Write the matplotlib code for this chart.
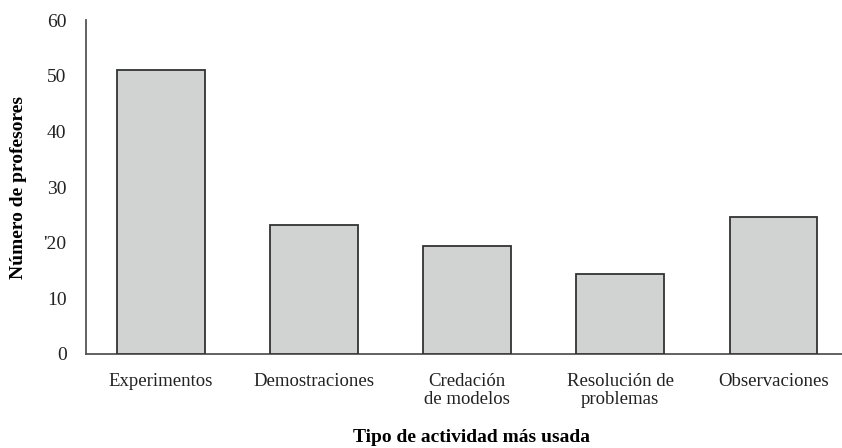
import matplotlib
matplotlib.use("Agg")
import matplotlib.pyplot as plt

categories = ["Experimentos", "Demostraciones", "Credación\nde modelos",
              "Resolución de\nproblemas", "Observaciones"]
values = [51, 23.2, 19.4, 14.3, 24.6]
ytick_values = [0, 10, 20, 30, 40, 50, 60]
ytick_labels = ["0", "10", "'20", "30", "40", "50", "60"]

plt.rcParams['font.family'] = ['Liberation Serif', 'DejaVu Serif']

fig = plt.figure(figsize=(8.42, 4.48), dpi=100)
ax = fig.add_axes([86/842, 1 - 354/448, (842 - 86)/842, (354 - 20)/448])

x = list(range(len(categories)))
ax.bar(x, values, width=0.57, color="#d1d3d2", edgecolor="#333333", linewidth=1.3, zorder=3)

ax.set_xlim(-0.49, 4.45)
ax.set_ylim(0, 60)
ax.set_yticks(ytick_values)
ax.set_yticklabels(ytick_labels, fontsize=14)
ax.set_xticks(x)
ax.set_xticklabels(categories, fontsize=13.5, linespacing=1.05)
ax.tick_params(axis="both", length=0, colors="#222222")
ax.tick_params(axis="y", pad=14)
ax.tick_params(axis="x", pad=14)

for s in ["top", "right"]:
    ax.spines[s].set_visible(False)
for s in ["left", "bottom"]:
    ax.spines[s].set_color("#555555")
    ax.spines[s].set_linewidth(1.3)

ax.set_ylabel("Número de profesores", fontsize=14, fontweight="bold", labelpad=12)
ax.set_xlabel("Tipo de actividad más usada", fontsize=14, fontweight="bold", va="center")
ax.xaxis.set_label_coords((471 - 86) / (842 - 86), -(438 - 354) / (354 - 20))

fig.savefig("out.png", dpi=100)
